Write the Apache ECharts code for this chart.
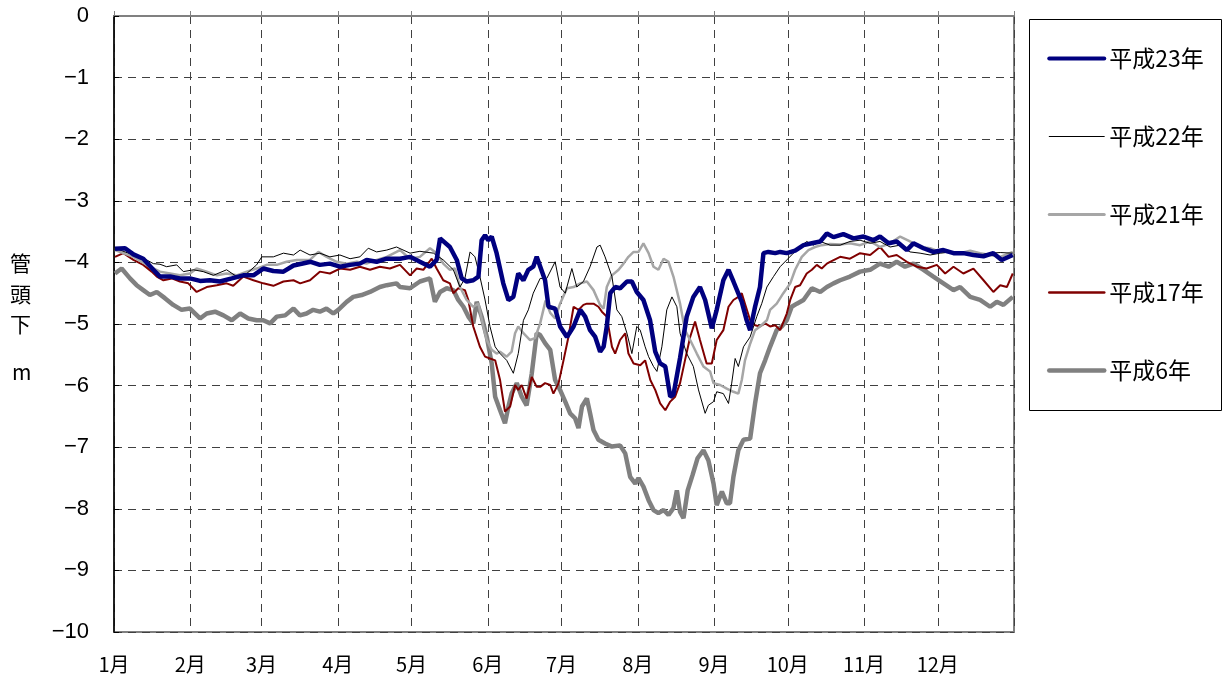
<!DOCTYPE html>
<html><head><meta charset="utf-8">
<script src="https://cdn.jsdelivr.net/npm/echarts@6/dist/echarts.min.js"></script>
<style>html,body{margin:0;padding:0;background:#fff}#c{width:1226px;height:682px}</style>
</head><body><div id="c"></div><script>
// Month axis (day-of-year, leap-year length as in the original)
const monthLabels = ['1月','2月','3月','4月','5月','6月','7月','8月','9月','10月','11月','12月'];
const monthStarts = [0,31,60,91,121,152,182,213,244,274,305,335];
const yearDays = 366;
const seriesNames = ['平成23年','平成22年','平成21年','平成17年','平成6年'];

// [day of year, level (m below casing top)]
const h23 = [[0.4,-3.78],[4.5,-3.77],[7.9,-3.87],[11.9,-3.94],[16,-4.12],[18.7,-4.23],[22.8,-4.23],[26.8,-4.26],[30.9,-4.26],[35,-4.30],[39,-4.29],[43.1,-4.31],[47.9,-4.26],[52.6,-4.21],[56.7,-4.21],[60.7,-4.10],[64.8,-4.14],[68.9,-4.15],[73,-4.05],
[80,-3.99],[83.7,-4.04],[87.8,-4.02],[91.9,-4.07],[96,-4.04],[100,-4.02],[102.7,-3.96],[106.8,-3.99],[110.9,-3.94],[114.9,-3.94],
[116.3,-3.94],[120.4,-3.91],[124.4,-3.99],[128.5,-4.07],[131.2,-3.96],[132.6,-3.61],[136.6,-3.75],[139.4,-3.96],[141.4,-4.26],[143.4,-4.31],[146.1,-4.29],[148.2,-4.23],[149.5,-3.64],[150.9,-3.56],[152.2,-3.64],[153.6,-3.58],[155.6,-3.85],[158.3,-4.34],[160.4,-4.61],[162.4,-4.56],[164.4,-4.18],[166.5,-4.29],[168.5,-4.12],[170.5,-4.07],[171.9,-3.91],
[175.3,-4.29],[176.7,-4.72],[179.4,-4.75],[181.4,-5.04],[184.2,-5.21],[186.9,-5.04],[189.6,-4.77],[191.6,-4.88],[193.6,-5.10],[195.7,-5.21],[197.7,-5.45],[199.1,-5.37],[200.4,-5.04],[201.8,-4.50],[203.8,-4.40],[205.8,-4.42],[208.6,-4.31],[210.6,-4.31],[212.6,-4.48],[215.3,-4.61],[218,-4.94],[220.1,-5.45],[222.1,-5.64],[224.2,-5.69],[226.2,-6.18],[227.5,-6.15],
[230.2,-5.55],[232.9,-4.88],[235.6,-4.56],[238.3,-4.40],[240.4,-4.61],[243.1,-5.07],[245.1,-4.77],[247.8,-4.29],[249.9,-4.12],[251.9,-4.31],[255.3,-4.64],[257.3,-4.94],[258.7,-5.10],[260.7,-4.72],[262.7,-4.40],[264.1,-3.85],[266.1,-3.83],[268.9,-3.85],[270.9,-3.83],[273.6,-3.85],[277,-3.81],[280.4,-3.72],[283.8,-3.69],[287.2,-3.66],[289.9,-3.53],
[292.6,-3.59],[296.6,-3.54],[300.7,-3.61],[304.8,-3.58],[308.8,-3.64],[311.5,-3.58],[315,-3.69],[318.3,-3.66],[322.4,-3.80],[325.1,-3.69],[329.2,-3.77],[333.2,-3.83],[337.3,-3.80],[341.4,-3.85],[345.4,-3.85],[349.5,-3.88],[353.6,-3.90],[357.6,-3.85],[361,-3.96],[365.5,-3.88]];

const h22 = [[0.4,-3.77],[7.9,-3.88],[13.3,-3.96],[16,-4.02],[18.7,-4.03],[21.4,-4.07],[25.5,-4.04],[28.2,-4.15],[32.3,-4.12],[36.3,-4.15],[40.4,-4.21],[45.8,-4.12],[49.9,-4.23],[54,-4.18],[58,-4.04],[60.1,-3.91],[64.8,-3.91],[68.9,-3.85],[73,-3.88],
[75.7,-3.80],[79.7,-3.88],[83.7,-3.85],[87.8,-3.91],[91.9,-3.88],[96,-3.94],[100,-3.91],[103.4,-3.77],[106.8,-3.83],[110.9,-3.80],[114.9,-3.75],
[120.4,-3.85],[124.4,-3.82],[129.9,-3.85],[133.9,-3.96],[138,-4.12],[140.7,-4.40],[142.7,-4.26],[144.8,-3.83],[146.8,-3.91],[148.8,-4.23],[150.9,-4.61],[152.9,-5.04],[155,-5.37],[157,-5.48],[159.7,-5.59],[162.4,-5.80],[164.4,-5.48],[166.5,-4.94],[168.5,-4.77],[170.5,-4.50],
[173.3,-4.26],[176,-4.26],[179.4,-3.99],[181.4,-4.40],[183.5,-4.50],[186.2,-4.10],[188.2,-4.40],[190.9,-4.31],[193.6,-4.07],[196.4,-3.75],[197.7,-3.72],[199.7,-3.91],[202.5,-4.23],[204.5,-4.77],[206.5,-4.88],[208.6,-5.15],[210.6,-5.48],[212.6,-5.04],[214,-5.10],[216,-5.37],[217.4,-5.53],[219.4,-5.69],[220.8,-5.77],[222.8,-5.37],[224.8,-4.77],[226.9,-4.56],[228.9,-4.72],
[230.2,-5.15],[232.9,-5.48],[235.6,-5.69],[237.7,-6.07],[240.4,-6.45],[241.7,-6.32],[243.8,-6.26],[245.1,-6.10],[247.8,-6.13],[249.9,-6.29],[251.2,-5.96],[252.6,-5.56],[253.9,-5.69],[256,-5.37],[258.7,-5.21],[261.4,-4.88],[263.4,-4.67],[265.5,-4.40],[268.2,-4.23],[270.9,-4.07],[273.6,-3.96],[276.3,-3.85],[279,-3.75],[281.7,-3.66],[284.4,-3.72],[287.2,-3.66],
[291.2,-3.72],[295.3,-3.72],[299.3,-3.66],[303.4,-3.64],[307.5,-3.69],[311.5,-3.66],[315.6,-3.75],[319.7,-3.72],[323.7,-3.83],[327.8,-3.85],[331.9,-3.88],[336,-3.85],[340,-3.83],[344.1,-3.85],[348.2,-3.85],[352.2,-3.88],[356.3,-3.85],[360.4,-3.84],[365.5,-3.85]];

const h21 = [[0.4,-3.80],[7.9,-3.91],[14.6,-4.07],[18.7,-4.15],[22.8,-4.18],[26.8,-4.21],[30.9,-4.18],[33.6,-4.10],[37.7,-4.15],[41.8,-4.21],[45.8,-4.18],[49.9,-4.21],[54,-4.15],[58,-4.10],[62.1,-4.04],[66.2,-4.04],[70.2,-3.99],[74.3,-3.96],
[79.7,-3.96],[83.1,-3.83],[86.5,-3.91],[90.5,-3.99],[94.6,-4.02],[98.7,-3.99],[102.7,-4.02],[106.8,-3.96],[110.9,-3.91],[114.9,-3.83],
[116.3,-3.80],[120.4,-3.94],[124.4,-3.91],[128.5,-3.77],[131.2,-3.85],[133.9,-4.02],[136.6,-4.12],[138.7,-4.10],[140.7,-4.40],[143.4,-4.61],[146.1,-4.72],[148.2,-4.67],[150.2,-5.04],[151.6,-5.26],[153.6,-5.42],[155.6,-5.48],[157,-5.45],[159.7,-5.53],[161.7,-5.45],[163.1,-5.15],[164.4,-5.04],[166.5,-5.15],[169.2,-5.26],[171.2,-5.23],
[173.3,-4.99],[175.5,-4.62],[177.4,-4.82],[179.4,-4.91],[181.4,-4.67],[184.2,-4.42],[186.9,-4.40],[189.6,-4.34],[192.3,-4.31],[195,-4.45],[197.7,-4.69],[199.1,-4.75],[200.4,-4.40],[202.5,-4.21],[205.2,-4.12],[207.2,-4.02],[209.2,-3.91],[211.3,-3.83],[213.3,-3.83],[215.3,-3.69],[217.4,-3.85],[219.4,-4.07],[221.4,-4.12],[223.5,-3.94],[225.5,-3.99],[227.5,-4.23],
[230.2,-4.67],[232.2,-5.10],[234.3,-5.26],[237,-5.48],[239.7,-5.69],[242.4,-5.77],[243.8,-5.96],[246.5,-5.99],[249.2,-6.05],[251.9,-6.10],[253.9,-6.13],[255.3,-5.91],[256.6,-5.59],[258.7,-5.32],[260.7,-5.10],[262.7,-5.04],[265.5,-4.94],[266.8,-4.77],[269.5,-4.67],[272.2,-4.50],[275,-4.34],[277,-4.12],[279.7,-3.91],[282.4,-3.80],[285.1,-3.75],[287.8,-3.72],
[291.2,-3.70],[295.3,-3.71],[299.3,-3.69],[303.4,-3.72],[307.5,-3.66],[311.5,-3.75],[315.6,-3.69],[319.7,-3.58],[323.7,-3.66],[327.8,-3.75],[331.9,-3.77],[336,-3.83],[340,-3.83],[344.1,-3.85],[348.2,-3.81],[352.2,-3.85],[356.3,-3.88],[360.4,-3.91],[365.5,-3.83]];

const h17 = [[0.4,-3.91],[3.8,-3.85],[7.9,-3.96],[11.9,-4.04],[15.3,-4.15],[17.4,-4.23],[20.1,-4.29],[23.5,-4.26],[26.8,-4.31],[30.2,-4.34],[33.6,-4.48],[37.7,-4.40],[41.8,-4.37],[45.8,-4.34],[48.5,-4.38],[52.6,-4.23],[56.7,-4.29],[60.7,-4.34],[64.8,-4.38],[68.9,-4.31],[73,-4.29],
[75.7,-4.34],[79.7,-4.29],[83.7,-4.15],[87.8,-4.18],[91.9,-4.10],[96,-4.12],[100,-4.07],[104.1,-4.12],[108.1,-4.07],[112.2,-4.10],[116.3,-4.04],
[120.4,-4.21],[123.1,-4.10],[125.8,-4.12],[129.2,-3.94],[131.2,-4.10],[133.9,-4.29],[136.6,-4.34],[138,-4.50],[140,-4.42],[142.7,-4.45],[144.1,-4.61],[146.1,-5.04],[148.8,-5.37],[150.9,-5.53],[152.9,-5.56],[155,-5.59],[157,-5.91],[159,-6.42],[161.1,-6.34],[163.1,-5.99],[164.4,-6.07],[165.8,-5.99],[167.8,-6.21],[169.9,-5.86],[171.9,-6.02],
[173.3,-6.02],[175.3,-5.96],[177.4,-5.99],[178.7,-6.13],[180.8,-5.96],[182.8,-5.59],[184.8,-5.21],[186.9,-4.72],[188.9,-4.77],[190.9,-4.69],[192.3,-4.67],[195,-4.67],[197,-4.72],[198.4,-4.80],[200.4,-4.88],[202.5,-5.37],[203.8,-5.48],[205.8,-5.26],[207.9,-5.15],[209.2,-5.48],[211.3,-5.64],[214,-5.67],[216,-5.59],[218.1,-5.91],[220.1,-6.07],[222.1,-6.29],[224.2,-6.40],[226.2,-6.26],[228.2,-6.18],
[230.2,-5.96],[232.2,-5.59],[234.3,-5.21],[236.3,-4.96],[238.3,-5.26],[241,-5.64],[243.1,-5.64],[245.1,-5.26],[247.8,-5.10],[249.9,-4.72],[251.9,-4.61],[253.9,-4.56],[255.3,-4.50],[256.6,-4.67],[258.7,-4.94],[260.7,-5.02],[262.7,-5.04],[264.8,-4.99],[266.8,-5.04],[268.9,-5.02],[270.9,-5.10],[273.6,-4.83],[275,-4.61],[277,-4.40],[279,-4.37],[281.7,-4.18],[283.8,-4.12],[285.8,-4.04],[287.8,-4.10],[289.9,-4.02],
[291.2,-3.99],[295.3,-3.91],[299.3,-3.94],[303.4,-3.85],[307.5,-3.88],[311.5,-3.75],[315,-3.91],[318.3,-3.88],[322.4,-3.99],[326.5,-4.07],[330.5,-4.10],[334.6,-4.04],[338,-4.18],[341.4,-4.07],[345.4,-4.18],[349.5,-4.10],[353.6,-4.29],[357.6,-4.48],[360.4,-4.37],[363.1,-4.40],[365.5,-4.18]];

const h6 = [[0.4,-4.18],[3.1,-4.10],[6.5,-4.26],[9.2,-4.37],[11.9,-4.45],[14.6,-4.53],[17.4,-4.48],[20.7,-4.58],[24.1,-4.69],[27.5,-4.77],[30.9,-4.75],[35,-4.91],[37.7,-4.83],[41.1,-4.80],[44.5,-4.86],[47.9,-4.94],[51.3,-4.83],[54.6,-4.91],[58,-4.94],[60.7,-4.94],[63.5,-4.99],[66.2,-4.88],[69.6,-4.86],[73,-4.75],
[75.6,-4.86],[78.3,-4.83],[81,-4.77],[83.7,-4.80],[86.4,-4.75],[89.2,-4.83],[91.2,-4.77],[94.6,-4.64],[97.3,-4.56],[100.7,-4.53],[104.1,-4.48],[108.1,-4.40],[110.9,-4.37],[114.9,-4.34],
[116.3,-4.40],[120.4,-4.42],[124.4,-4.31],[128.5,-4.26],[130.5,-4.64],[132.6,-4.48],[135.3,-4.42],[138,-4.45],[140,-4.61],[142.1,-4.72],[144.1,-4.88],[146.1,-4.99],[147.5,-4.64],[149.5,-4.88],[151.6,-5.21],[153.6,-5.64],[155,-6.18],[157,-6.40],[159,-6.61],[160.4,-6.34],[161.7,-6.13],[163.8,-5.96],[165.8,-6.18],[167.8,-6.32],[169.9,-5.80],[171.9,-5.15],
[173.3,-5.18],[175.3,-5.31],[177.4,-5.42],[179.4,-5.91],[181.4,-6.07],[183.5,-6.26],[185.5,-6.45],[187.5,-6.53],[188.9,-6.69],[190.3,-6.34],[192.3,-6.21],[193.6,-6.45],[195,-6.72],[197,-6.88],[199.7,-6.94],[202.5,-6.99],[205.8,-6.97],[207.9,-7.10],[209.9,-7.48],[212,-7.59],[213.3,-7.50],[215.3,-7.64],[217.4,-7.86],[219.4,-8.02],[221.4,-8.07],[223.5,-8.02],[225.5,-8.10],[227.5,-7.99],[228.9,-7.70],
[230.2,-8.05],[231.6,-8.15],[233.3,-7.70],[235.3,-7.45],[237.3,-7.18],[239.7,-7.05],[241.7,-7.21],[243.8,-7.59],[245.1,-7.94],[247.2,-7.72],[249.2,-7.91],[250.5,-7.91],[251.9,-7.48],[253.9,-7.05],[256,-6.88],[258.7,-6.86],[260.7,-6.29],[262.7,-5.80],[264.8,-5.59],[266.8,-5.37],[269.5,-5.10],[271.6,-5.04],[273.6,-4.94],[275.6,-4.72],[277.7,-4.67],[280.4,-4.61],[283.8,-4.42],[287.2,-4.48],[289.9,-4.40],
[292.6,-4.34],[295.3,-4.29],[299.3,-4.23],[303.4,-4.15],[307.5,-4.12],[311.5,-4.02],[315,-4.07],[318.3,-3.99],[321.7,-4.07],[325.1,-4.02],[329.2,-4.12],[333.2,-4.23],[337.3,-4.34],[341.4,-4.45],[344.1,-4.40],[348.2,-4.56],[352.2,-4.61],[356.3,-4.72],[359,-4.64],[361.7,-4.69],[365.5,-4.56]];

const seriesData = [h23, h22, h21, h17, h6];
const seriesStyle = [
  {color:'#00007F', width:4.5, legendWidth:4, z:6},
  {color:'#000000', width:1, legendWidth:1, z:5},
  {color:'#A6A6A6', width:2.5, legendWidth:3, z:4},
  {color:'#800000', width:2, legendWidth:2.5, z:3},
  {color:'#808080', width:4.5, legendWidth:4.5, z:2}
];

const FONT = '"Liberation Sans", "Noto Sans CJK JP", sans-serif';
const JP = '"Noto Sans CJK JP", sans-serif';
const chart = echarts.init(document.getElementById('c'), null, {renderer:'canvas'});
chart.setOption({
  animation:false,
  backgroundColor:'#fff',
  textStyle:{fontFamily:FONT, color:'#000'},
  grid:{left:114, right:212, top:16, bottom:50, show:true, borderColor:'#808080', borderWidth:2, backgroundColor:'transparent'},
  xAxis:{
    type:'value', min:0, max:yearDays,
    axisLine:{show:true, lineStyle:{color:'#808080', width:2}},
    axisTick:{show:true, inside:true, length:5, customValues:monthStarts.concat([yearDays]), lineStyle:{color:'#808080'}},
    axisLabel:{customValues:monthStarts, fontSize:20, color:'#000', margin:22, fontFamily:JP,
      formatter:function(v){ const i = monthStarts.indexOf(Math.round(v)); return i>=0 ? monthLabels[i] : ''; }},
    splitLine:{show:true, lineStyle:{color:'#404040', type:[8,6], width:1}}
  },
  yAxis:{
    type:'value', min:-10, max:0, interval:1,
    axisLine:{show:true, lineStyle:{color:'#000', width:1.5}},
    axisTick:{show:true, inside:true, length:5, lineStyle:{color:'#000'}},
    axisLabel:{fontSize:22, color:'#000', margin:25,
      formatter:function(v){ return String(v).replace('-', '\u2212'); }},
    splitLine:{show:true, lineStyle:{color:'#404040', type:[8,6], width:1}}
  },
  legend:{
    orient:'vertical', left:1042, top:42, itemGap:55, itemWidth:55, itemHeight:14,
    data:seriesNames.map(function(n,i){ return {name:n, lineStyle:{width:seriesStyle[i].legendWidth, cap:'round'}}; }),
    itemStyle:{opacity:0},
    textStyle:{fontSize:23, color:'#000', fontFamily:JP},
    selectedMode:false
  },
  graphic:[
    {type:'rect', shape:{x:1029.5, y:19.5, width:192, height:391}, style:{fill:'none', stroke:'#000', lineWidth:1}, z:-1},
    {type:'text', left:10, top:248, style:{text:'管\n頭\n下', font:'21px "Noto Sans CJK JP", sans-serif', fill:'#000', lineHeight:30.5, align:'center'}},
    {type:'text', left:12, top:362, style:{text:'m', font:'21px "Noto Sans CJK JP", sans-serif', fill:'#000'}}
  ],
  series: seriesData.map(function(d,i){
    return {
      name:seriesNames[i], type:'line', data:d, symbol:'none', smooth:false,
      lineStyle:{color:seriesStyle[i].color, width:seriesStyle[i].width},
      itemStyle:{color:seriesStyle[i].color},
      z:seriesStyle[i].z
    };
  })
});
</script></body></html>
